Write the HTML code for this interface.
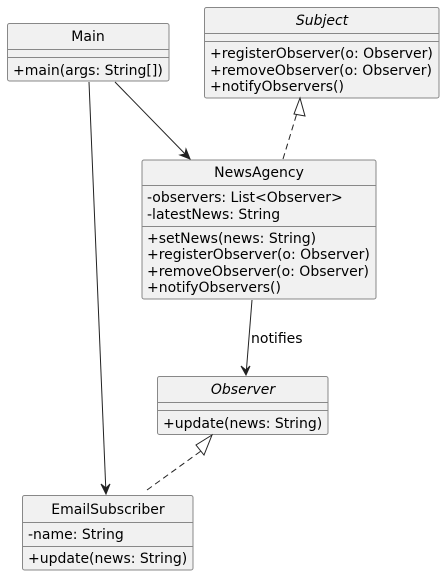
<!DOCTYPE html>
<html><head><meta charset="utf-8"><style>
html,body{margin:0;padding:0;background:#fff;}
svg{display:block;}
text{font-family:"DejaVu Sans","Liberation Sans",sans-serif;font-size:14px;fill:#000;}
.b{fill:#f1f1f1;stroke:#888;stroke-width:1;}
.l{stroke:#888;stroke-width:1;}
.c{stroke:#222;stroke-width:1;fill:none;}
</style></head><body>
<svg width="445" height="576" viewBox="0 0 445 576">
<rect class="b" x="7.5" y="23.5" width="161.5" height="57.5" rx="2"/>
<line class="l" x1="7.5" y1="49.5" x2="169" y2="49.5"/>
<line class="l" x1="7.5" y1="57.5" x2="169" y2="57.5"/>
<text x="88" y="41" text-anchor="middle">Main</text>
<text x="13" y="75">+main(args: String[])</text>
<rect class="b" x="204.5" y="7.5" width="234.5" height="90.5" rx="2"/>
<line class="l" x1="204.5" y1="33.5" x2="439" y2="33.5"/>
<line class="l" x1="204.5" y1="41.5" x2="439" y2="41.5"/>
<text x="322" y="25" text-anchor="middle" font-style="italic">Subject</text>
<text x="210" y="58">+registerObserver(o: Observer)</text>
<text x="210" y="75">+removeObserver(o: Observer)</text>
<text x="210" y="91">+notifyObservers()</text>
<rect class="b" x="142" y="160" width="234" height="139" rx="2"/>
<line class="l" x1="142" y1="185.5" x2="376" y2="185.5"/>
<line class="l" x1="142" y1="226.5" x2="376" y2="226.5"/>
<text x="259" y="177" text-anchor="middle">NewsAgency</text>
<text x="147" y="202">-observers: List&lt;Observer&gt;</text>
<text x="147" y="219">-latestNews: String</text>
<text x="147" y="243">+setNews(news: String)</text>
<text x="147" y="259">+registerObserver(o: Observer)</text>
<text x="147" y="276">+removeObserver(o: Observer)</text>
<text x="147" y="292">+notifyObservers()</text>
<rect class="b" x="157.5" y="376.5" width="170.5" height="58" rx="2"/>
<line class="l" x1="157.5" y1="402.5" x2="328" y2="402.5"/>
<line class="l" x1="157.5" y1="410.5" x2="328" y2="410.5"/>
<text x="243" y="394" text-anchor="middle" font-style="italic">Observer</text>
<text x="163" y="428">+update(news: String)</text>
<rect class="b" x="22.5" y="495.5" width="170.5" height="74.5" rx="2"/>
<line class="l" x1="22.5" y1="522.5" x2="193" y2="522.5"/>
<line class="l" x1="22.5" y1="546.5" x2="193" y2="546.5"/>
<text x="108" y="514" text-anchor="middle">EmailSubscriber</text>
<text x="28" y="539">-name: String</text>
<text x="28" y="563">+update(news: String)</text>
<line class="c" x1="115" y1="82" x2="190" y2="159"/>
<path d="M180,155 L190,159 L186,149 L185,154 Z" fill="#222" stroke="#222"/>
<line class="c" x1="89" y1="82" x2="106" y2="494"/>
<path d="M101,484 L106,494 L110,484 L106,488 Z" fill="#222" stroke="#222"/>
<line class="c" x1="252" y1="300" x2="246" y2="375"/>
<path d="M241,366 L246,375 L250,366 L246,370 Z" fill="#222" stroke="#222"/>
<text x="251" y="343">notifies</text>
<line class="c" x1="283" y1="159" x2="297" y2="113" stroke-dasharray="6,4"/>
<path d="M300,98 L294,114 L305,116 Z" fill="#fff" stroke="#222"/>
<line class="c" x1="147" y1="490" x2="201" y2="451" stroke-dasharray="6,4"/>
<path d="M212,435 L196,445 L204,455 Z" fill="#fff" stroke="#222"/>
</svg>
</body></html>
